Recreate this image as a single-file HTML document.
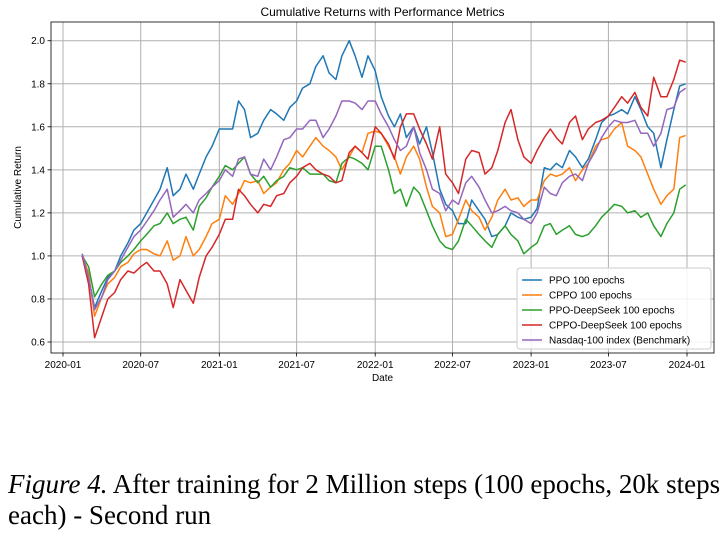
<!DOCTYPE html>
<html><head><meta charset="utf-8">
<style>
body{margin:0;background:#fff;width:728px;height:535px;overflow:hidden;font-family:"Liberation Sans",sans-serif}
#cap{position:absolute;left:8px;top:469px;font-family:"Liberation Serif",serif;font-size:27px;line-height:31px;color:#000;width:725px;white-space:nowrap}
</style></head>
<body>
<svg id="chart" width="728" height="460" style="position:absolute;left:0;top:0" xmlns="http://www.w3.org/2000/svg"></svg>
<div id="cap"><i>Figure 4.</i> After training for 2 Million steps (100 epochs, 20k steps<br>each) - Second run</div>
<script>
const ppo = [1.01,0.90,0.76,0.84,0.90,0.93,1.00,1.06,1.12,1.15,1.20,1.26,1.31,1.41,1.28,1.31,1.38,1.31,1.38,1.46,1.51,1.59,1.59,1.59,1.72,1.68,1.55,1.57,1.63,1.68,1.66,1.63,1.69,1.72,1.78,1.80,1.88,1.93,1.85,1.82,1.93,2.00,1.93,1.83,1.93,1.86,1.74,1.65,1.60,1.66,1.55,1.60,1.52,1.60,1.48,1.31,1.24,1.21,1.15,1.15,1.26,1.21,1.17,1.09,1.10,1.14,1.20,1.18,1.17,1.18,1.22,1.41,1.40,1.43,1.41,1.49,1.46,1.41,1.45,1.54,1.62,1.65,1.66,1.68,1.66,1.74,1.68,1.60,1.57,1.41,1.54,1.68,1.79,1.80];
const cppo = [1.00,0.92,0.72,0.81,0.87,0.90,0.95,0.97,1.01,1.03,1.03,1.01,1.00,1.07,0.98,1.00,1.09,1.00,1.03,1.09,1.15,1.17,1.28,1.24,1.29,1.35,1.34,1.35,1.29,1.32,1.34,1.40,1.43,1.49,1.46,1.51,1.55,1.51,1.49,1.46,1.40,1.46,1.51,1.48,1.57,1.58,1.57,1.51,1.46,1.38,1.46,1.51,1.45,1.32,1.23,1.20,1.09,1.10,1.17,1.26,1.21,1.18,1.12,1.18,1.26,1.31,1.26,1.27,1.23,1.26,1.26,1.35,1.38,1.37,1.38,1.41,1.35,1.40,1.43,1.51,1.54,1.55,1.59,1.62,1.51,1.49,1.46,1.38,1.31,1.24,1.28,1.31,1.55,1.56];
const ppoDeepSeek = [1.00,0.95,0.81,0.87,0.91,0.93,0.97,1.00,1.03,1.07,1.10,1.14,1.15,1.20,1.15,1.17,1.18,1.12,1.23,1.27,1.32,1.37,1.42,1.40,1.43,1.46,1.38,1.34,1.37,1.32,1.35,1.37,1.41,1.40,1.41,1.38,1.38,1.38,1.35,1.34,1.43,1.46,1.45,1.43,1.40,1.51,1.51,1.40,1.29,1.31,1.23,1.32,1.29,1.21,1.14,1.07,1.04,1.03,1.07,1.17,1.14,1.10,1.07,1.04,1.10,1.14,1.10,1.07,1.01,1.04,1.06,1.14,1.15,1.10,1.12,1.14,1.10,1.09,1.10,1.14,1.18,1.21,1.24,1.23,1.20,1.21,1.18,1.20,1.14,1.09,1.15,1.20,1.31,1.33];
const cppoDeepSeek = [1.00,0.87,0.62,0.72,0.80,0.83,0.89,0.93,0.92,0.95,0.97,0.93,0.93,0.87,0.76,0.89,0.84,0.78,0.90,1.00,1.04,1.10,1.17,1.17,1.31,1.28,1.24,1.20,1.24,1.23,1.28,1.29,1.34,1.37,1.41,1.43,1.40,1.38,1.37,1.34,1.35,1.48,1.51,1.48,1.45,1.60,1.57,1.52,1.45,1.60,1.66,1.66,1.59,1.52,1.45,1.60,1.38,1.34,1.29,1.45,1.49,1.48,1.38,1.41,1.49,1.62,1.68,1.54,1.46,1.43,1.49,1.55,1.59,1.55,1.52,1.62,1.65,1.54,1.59,1.62,1.63,1.65,1.69,1.74,1.71,1.76,1.69,1.65,1.83,1.74,1.74,1.82,1.91,1.90];
const nasdaq = [1.01,0.90,0.75,0.81,0.89,0.93,0.98,1.04,1.09,1.12,1.16,1.21,1.26,1.31,1.18,1.21,1.24,1.20,1.26,1.29,1.32,1.35,1.40,1.37,1.45,1.46,1.38,1.37,1.45,1.40,1.46,1.54,1.55,1.59,1.59,1.63,1.63,1.55,1.59,1.65,1.72,1.72,1.71,1.68,1.72,1.72,1.66,1.60,1.54,1.49,1.51,1.60,1.48,1.40,1.31,1.29,1.21,1.26,1.24,1.34,1.37,1.32,1.26,1.20,1.21,1.23,1.21,1.20,1.17,1.15,1.20,1.32,1.29,1.28,1.34,1.37,1.38,1.35,1.43,1.49,1.55,1.60,1.63,1.62,1.62,1.63,1.57,1.57,1.51,1.57,1.68,1.69,1.76,1.78];
const yTicks = [0.6,0.8,1.0,1.2,1.4,1.6,1.8,2.0];
const xTicks = ["2020-01","2020-07","2021-01","2021-07","2022-01","2022-07","2023-01","2023-07","2024-01"];
const seriesNames = ["PPO 100 epochs","CPPO 100 epochs","PPO-DeepSeek 100 epochs","CPPO-DeepSeek 100 epochs","Nasdaq-100 index (Benchmark)"];
const seriesColors = ["#1f77b4","#ff7f0e","#2ca02c","#d62728","#9467bd"];
const dates = [];
dates.push("2020-02-15");
for (let y=2020;y<=2023;y++){for(let m=(y===2020?3:1);m<=12;m++){const mm=String(m).padStart(2,"0");dates.push(y+"-"+mm+"-01");dates.push(y+"-"+mm+"-15");}}
dates.push("2023-12-29");

const NS="http://www.w3.org/2000/svg";
const svg=document.getElementById("chart");
const L=51,R=714,T=22,B=353;
const t0=Date.parse("2020-01-01"),t1=Date.parse("2024-01-01");
function xScale(d){return 63+(Date.parse(d)-t0)/(t1-t0)*624;}
function yScale(v){return 342-(v-0.6)*215.2;}
function el(tag,attrs,parent){const e=document.createElementNS(NS,tag);for(const k in attrs)e.setAttribute(k,attrs[k]);(parent||svg).appendChild(e);return e;}

const grid=el("g",{});


yTicks.forEach(v=>{
  const y=yScale(v);
  const g=el("line",{x1:L,x2:R,y1:y,y2:y,stroke:"#b0b0b0","stroke-width":1},grid);
  
  
  el("line",{x1:L-3.5,x2:L,y1:y,y2:y,stroke:"#000","stroke-width":0.8});
  const t=el("text",{x:L-6,y:y+3.5,"text-anchor":"end","font-size":"10",fill:"#000"});
  t.textContent=v.toFixed(1);
  
  
});
xTicks.forEach(d=>{
  const x=xScale(d+"-01");
  const g=el("line",{x1:x,x2:x,y1:T,y2:B,stroke:"#b0b0b0","stroke-width":1},grid);
  
  
  el("line",{x1:x,x2:x,y1:B,y2:B+3.5,stroke:"#000","stroke-width":0.8});
  const t=el("text",{x:x,y:B+15,"text-anchor":"middle","font-size":"10",fill:"#000"});
  t.textContent=d;
  
  
});

const allSeries=[ppo,cppo,ppoDeepSeek,cppoDeepSeek,nasdaq];
const drawOrder=[0,1,2,3,4];
drawOrder.forEach(i=>{
  const vals=allSeries[i];
  const pts=vals.map((v,j)=>xScale(dates[j]).toFixed(1)+","+yScale(v).toFixed(1)).join(" ");
  const p=el("polyline",{points:pts,fill:"none",stroke:seriesColors[i],"stroke-width":1.5,"stroke-linejoin":"round"});
  
  
});

const frame=el("rect",{x:L,y:T,width:R-L,height:B-T,fill:"none",stroke:"#000","stroke-width":0.8});



const title=el("text",{x:(L+R)/2,y:T-6,"text-anchor":"middle","font-size":"12",fill:"#000"});
title.textContent="Cumulative Returns with Performance Metrics";


const xl=el("text",{x:(L+R)/2,y:B+28,"text-anchor":"middle","font-size":"10",fill:"#000"});
xl.textContent="Date";


const yl=el("text",{x:0,y:0,"text-anchor":"middle","font-size":"10",fill:"#000",transform:"translate(21,"+((T+B)/2)+") rotate(-90)"});
yl.textContent="Cumulative Return";



const lg=el("g",{});


el("rect",{x:517,y:268,width:194,height:81,rx:3,fill:"#fff","fill-opacity":0.85,stroke:"#ccc","stroke-width":1},lg);
seriesNames.forEach((n,i)=>{
  const y=280+i*15;
  const ln=el("line",{x1:522,x2:542,y1:y,y2:y,stroke:seriesColors[i],"stroke-width":1.5},lg);
  
  
  const t=el("text",{x:549,y:y+3.5,"font-size":"10",fill:"#000"},lg);
  t.textContent=n;
  
  
});
</script>
</body></html>
